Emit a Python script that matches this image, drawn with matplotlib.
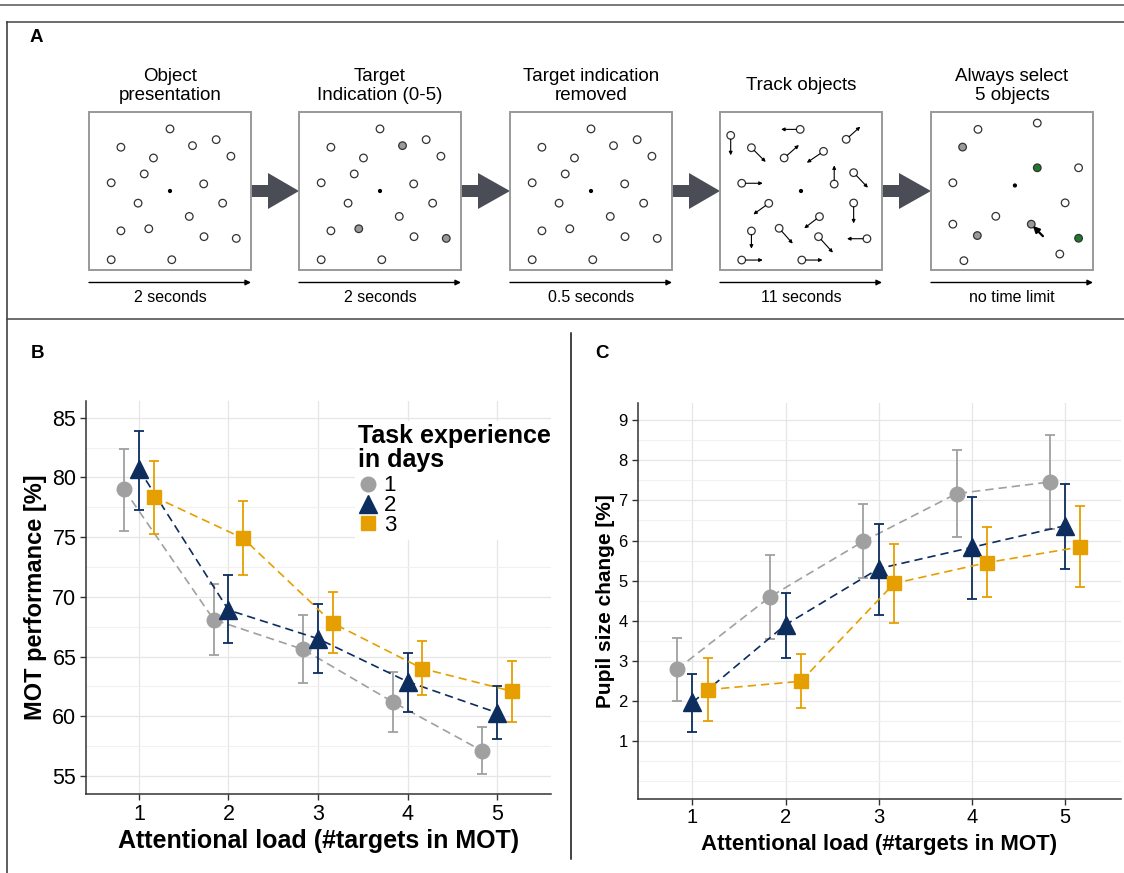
import numpy as np
import matplotlib.pyplot as plt
from matplotlib.patches import Rectangle, Circle, Polygon
from matplotlib.lines import Line2D
from matplotlib.ticker import MultipleLocator

plt.rcParams['font.family'] = ['Liberation Sans', 'DejaVu Sans']

# ── Panel A: MOT trial sequence ───────────────────────────────────────────────
step_titles = ['Object\npresentation', 'Target\nIndication (0-5)',
               'Target indication\nremoved', 'Track objects',
               'Always select\n5 objects']
step_durations = ['2 seconds', '2 seconds', '0.5 seconds', '11 seconds',
                  'no time limit']

# object positions inside one display (fraction of box width / height)
obj_x = [0.500, 0.197, 0.639, 0.785, 0.398, 0.876, 0.341, 0.137, 0.708,
         0.303, 0.825, 0.619, 0.197, 0.369, 0.710, 0.909, 0.137, 0.511]
obj_y = [0.107, 0.223, 0.213, 0.175, 0.291, 0.280, 0.392, 0.448, 0.455,
         0.577, 0.577, 0.661, 0.752, 0.739, 0.789, 0.800, 0.935, 0.935]
target_idx = [2, 13, 15]

# tracking display: object position and where its motion arrow points
track_x   = [0.066, 0.495, 0.779, 0.194, 0.396, 0.639, 0.705, 0.825, 0.134,
             0.301, 0.825, 0.614, 0.194, 0.365, 0.608, 0.907, 0.134, 0.505]
track_y   = [0.148, 0.110, 0.173, 0.226, 0.291, 0.249, 0.456, 0.384, 0.451,
             0.578, 0.576, 0.662, 0.753, 0.736, 0.789, 0.802, 0.937, 0.937]
track_tx  = [0.066, 0.377, 0.866, 0.282, 0.487, 0.536, 0.705, 0.913, 0.264,
             0.206, 0.825, 0.520, 0.194, 0.449, 0.697, 0.784, 0.264, 0.633]
track_ty  = [0.274, 0.110, 0.093, 0.316, 0.209, 0.321, 0.338, 0.479, 0.451,
             0.648, 0.705, 0.736, 0.865, 0.833, 0.890, 0.802, 0.937, 0.937]

# response display: 0 = untouched, 1 = selected, 2 = correct target
sel_x = [0.290, 0.656, 0.195, 0.656, 0.911, 0.135, 0.828, 0.400, 0.135,
         0.286, 0.619, 0.911, 0.795, 0.203]
sel_y = [0.110, 0.070, 0.222, 0.353, 0.353, 0.448, 0.575, 0.660, 0.710,
         0.782, 0.710, 0.799, 0.899, 0.941]
sel_state = [0, 0, 1, 2, 0, 0, 0, 0, 0, 1, 1, 2, 0, 0]
cursor_from = (0.691, 0.786)
cursor_to   = (0.629, 0.721)

# ── Panels B / C: results ────────────────────────────────────────────────────
load = np.array([1, 2, 3, 4, 5])
days = ['1', '2', '3']

mot_mean = [[79.0, 68.1, 65.6, 61.2, 57.1],
            [80.7, 68.9, 66.5, 62.9, 60.3],
            [78.4, 74.9, 67.8, 64.0, 62.1]]
mot_hi   = [[82.4, 71.1, 68.5, 63.7, 59.1],
            [83.9, 71.8, 69.4, 65.3, 62.5],
            [81.4, 78.0, 70.4, 66.3, 64.6]]
mot_lo   = [[75.5, 65.1, 62.8, 58.7, 55.2],
            [77.3, 66.1, 63.6, 60.4, 58.1],
            [75.3, 71.8, 65.3, 61.8, 59.5]]

pupil_mean = [[2.79, 4.60, 5.98, 7.17, 7.46],
              [1.96, 3.90, 5.30, 5.83, 6.37],
              [2.28, 2.49, 4.93, 5.45, 5.84]]
pupil_hi   = [[3.57, 5.64, 6.90, 8.25, 8.64],
              [2.67, 4.70, 6.42, 7.08, 7.41],
              [3.06, 3.16, 5.91, 6.33, 6.86]]
pupil_lo   = [[1.99, 3.55, 5.06, 6.09, 6.28],
              [1.23, 3.08, 4.15, 4.55, 5.29],
              [1.51, 1.83, 3.95, 4.59, 4.84]]

day_colors  = ['#a0a0a0', '#0c2d5e', '#e69f00']
day_markers = ['o', '^', 's']
day_msize   = [10.5, 13, 10]
dodge       = [-0.165, 0.0, 0.165]

# ── Figure & background canvas in pixel units ────────────────────────────────
W, H = 1124, 873
fig = plt.figure(figsize=(W / 100, H / 100), dpi=100)
bg = fig.add_axes([0, 0, 1, 1], zorder=0)
bg.set_xlim(0, W)
bg.set_ylim(H, 0)
bg.axis('off')

# frame lines
bg.plot([0, W], [4.5, 4.5], color='#555555', lw=1.1)
bg.plot([7, W], [22, 22], color='#444444', lw=1.1)
bg.plot([7, 7], [22, H], color='#333333', lw=1.1)
bg.plot([7, W], [318.5, 318.5], color='#444444', lw=1.1)
bg.plot([570.5, 570.5], [333, 859], color='#111111', lw=1.1)

bg.text(36, 37, 'A', fontsize=13.5, fontweight='bold', ha='center', va='center')
bg.text(37, 353, 'B', fontsize=13.5, fontweight='bold', ha='center', va='center')
bg.text(602, 353, 'C', fontsize=13.5, fontweight='bold', ha='center', va='center')

box_left = [89, 299, 510, 720, 931]
box_top, box_w, box_h = 112, 162, 158
r_obj = 3.8


def draw_obj(x, y, face):
    bg.add_patch(Circle((x, y), r_obj, facecolor=face, edgecolor='#333333',
                        lw=0.9, zorder=3))


for i, bx in enumerate(box_left):
    bg.add_patch(Rectangle((bx, box_top), box_w, box_h, facecolor='white',
                           edgecolor='#999999', lw=1.4, zorder=2))
    cx, cy = bx + box_w / 2, box_top + box_h / 2
    bg.text(cx, 86, step_titles[i], fontsize=13.5, ha='center', va='center',
            linespacing=1.2)
    # timeline arrow + duration
    bg.annotate('', xy=(bx + box_w, 282.5), xytext=(bx, 282.5),
                arrowprops=dict(arrowstyle='-|>', color='black', lw=1.0,
                                mutation_scale=8, shrinkA=0, shrinkB=0))
    bg.text(cx, 297.5, step_durations[i], fontsize=11.5, ha='center', va='center')

    if i < 4:
        # centre fixation dot
        bg.add_patch(Circle((cx, cy), 1.4, color='black', zorder=3))
    if i in (0, 1, 2):
        for k, (fx, fy) in enumerate(zip(obj_x, obj_y)):
            face = '#9a9a9a' if (i == 1 and k in target_idx) else 'white'
            draw_obj(bx + fx * box_w, box_top + fy * box_h, face)
    elif i == 3:
        for fx, fy, tx, ty in zip(track_x, track_y, track_tx, track_ty):
            px, py = bx + fx * box_w, box_top + fy * box_h
            qx, qy = bx + tx * box_w, box_top + ty * box_h
            d = np.hypot(qx - px, qy - py)
            sx, sy = px + r_obj * (qx - px) / d, py + r_obj * (qy - py) / d
            draw_obj(px, py, 'white')
            bg.annotate('', xy=(qx, qy), xytext=(sx, sy), zorder=3,
                        arrowprops=dict(arrowstyle='-|>', color='black', lw=0.8,
                                        mutation_scale=5, shrinkA=0, shrinkB=0))
    else:
        bg.add_patch(Circle((bx + 0.518 * box_w, box_top + 0.465 * box_h), 1.4,
                            color='black', zorder=3))
        faces = ['white', '#9a9a9a', '#1b7a2c']
        for fx, fy, st in zip(sel_x, sel_y, sel_state):
            draw_obj(bx + fx * box_w, box_top + fy * box_h, faces[st])
        bg.annotate('', xy=(bx + cursor_to[0] * box_w, box_top + cursor_to[1] * box_h),
                    xytext=(bx + cursor_from[0] * box_w, box_top + cursor_from[1] * box_h),
                    zorder=4,
                    arrowprops=dict(arrowstyle='-|>', color='black', lw=1.6,
                                    mutation_scale=9, shrinkA=0, shrinkB=0))

    # block arrow to next display
    if i < 4:
        x0, x1 = bx + box_w, box_left[i + 1]
        xs = x0 + 17
        bg.add_patch(Polygon([(x0, cy - 6), (xs, cy - 6), (xs, cy - 18), (x1, cy),
                              (xs, cy + 18), (xs, cy + 6), (x0, cy + 6)],
                             closed=True, facecolor='#4a4c56', edgecolor='none',
                             zorder=1))


# ── Result panels ────────────────────────────────────────────────────────────
def style_axes(ax, ytick_size, xtick_size):
    for s in ['top', 'right']:
        ax.spines[s].set_visible(False)
    for s in ['left', 'bottom']:
        ax.spines[s].set_color('#333333')
        ax.spines[s].set_linewidth(1.1)
    ax.set_xlim(0.41, 5.6)
    ax.set_xticks(load)
    ax.grid(True, which='major', color='#e6e6e6', lw=0.9)
    ax.grid(True, which='minor', axis='y', color='#f1f1f1', lw=0.8)
    ax.set_axisbelow(True)
    ax.tick_params(which='major', direction='out', length=4, width=1,
                   color='#333333', pad=3)
    ax.tick_params(which='minor', length=0)
    ax.tick_params(axis='y', labelsize=ytick_size)
    ax.tick_params(axis='x', labelsize=xtick_size)


def draw_series(ax, means, lows, highs):
    for d in range(3):
        xs = load + dodge[d]
        m = np.array(means[d])
        err = [m - np.array(lows[d]), np.array(highs[d]) - m]
        ax.errorbar(xs, m, yerr=err, fmt='none', ecolor=day_colors[d],
                    elinewidth=1.3, capsize=3.5, capthick=1.3, zorder=3 + d)
        ax.plot(xs, m, color=day_colors[d], lw=1.2, dashes=(5, 3), zorder=3 + d)
        ax.plot(xs, m, linestyle='none', marker=day_markers[d],
                markersize=day_msize[d], color=day_colors[d], zorder=3 + d)


# Panel B
axB = fig.add_axes([86 / W, 1 - 794 / H, 465 / W, 393 / H], zorder=1)
style_axes(axB, 15.5, 15.5)
axB.set_ylim(53.5, 86.4)
axB.set_yticks([55, 60, 65, 70, 75, 80, 85])
axB.yaxis.set_minor_locator(MultipleLocator(2.5))
draw_series(axB, mot_mean, mot_lo, mot_hi)
axB.set_xlabel('Attentional load (#targets in MOT)', fontsize=18, fontweight='bold')
axB.set_ylabel('MOT performance [%]', fontsize=17, fontweight='bold')
axB.xaxis.set_label_coords(0.5, -0.09)
axB.yaxis.set_label_coords(-0.083, 0.5)

handles = [Line2D([], [], linestyle='none', marker=day_markers[d],
                  markersize=day_msize[d], color=day_colors[d]) for d in range(3)]
leg = axB.legend(handles, days, title='Task experience\nin days', loc='upper left',
                 bbox_to_anchor=(0.578, 0.95), fontsize=16,
                 title_fontproperties={'weight': 'bold', 'size': 18},
                 alignment='left', frameon=True, facecolor='white',
                 edgecolor='none', framealpha=1, fancybox=False,
                 borderpad=0.15, labelspacing=-0.05, handlelength=0.9,
                 handletextpad=0.25, borderaxespad=0)
leg.get_title().set_linespacing(1.0)
leg._legend_box.sep = 2.5   # gap between title and entries (points)
leg.set_zorder(10)

# Panel C
axC = fig.add_axes([637.5 / W, 1 - 798.7 / H, 483.5 / W, 395.7 / H], zorder=1)
style_axes(axC, 12, 14.5)
axC.set_ylim(-0.44, 9.43)
axC.set_yticks(range(1, 10))
axC.yaxis.set_minor_locator(MultipleLocator(0.5))
draw_series(axC, pupil_mean, pupil_lo, pupil_hi)
axC.set_xlabel('Attentional load (#targets in MOT)', fontsize=16, fontweight='bold')
axC.set_ylabel('Pupil size change [%]', fontsize=15, fontweight='bold')
axC.xaxis.set_label_coords(0.5, -0.09)
axC.yaxis.set_label_coords(-0.047, 0.5)

fig.savefig('out.png', dpi=100)
